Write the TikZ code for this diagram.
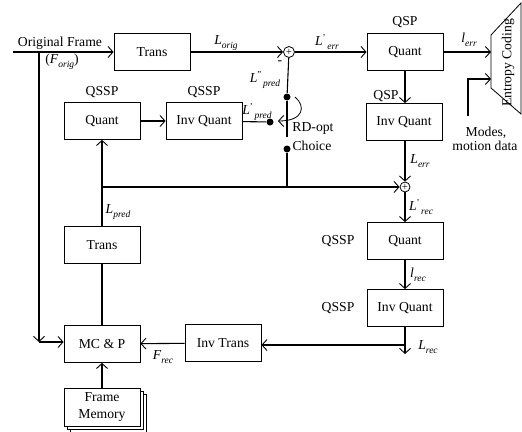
\documentclass[tikz,border=0pt]{standalone}
\usepackage{fontspec}
\setmainfont{Liberation Serif}
\usetikzlibrary{arrows.meta}
\newcommand{\Lx}[3]{\textit{#1}\raisebox{0.9ex}{\fontsize{9}{9}\selectfont #2}\raisebox{-0.6ex}{\fontsize{9.5}{9}\selectfont\itshape #3}}
\begin{document}
\begin{tikzpicture}[x=1pt,y=-1pt, font=\fontsize{13.7}{15}\selectfont,
  line width=1.1pt,
  box/.style={draw, line width=0.8pt, fill=white, minimum width=76pt, minimum height=37pt, inner sep=0pt, align=center},
  ar/.style={-{Straight Barb[length=5pt,width=11pt,line width=0.9pt]}},
  lab/.style={inner sep=0pt},
  dot/.style={circle, fill, inner sep=0pt, minimum size=7pt},
  sumc/.style={circle, draw, line width=0.8pt, fill=white, minimum size=11pt, inner sep=0pt, font=\fontsize{11}{11}\selectfont}]
\useasboundingbox (0,0) rectangle (522,431);

% boxes
\node[box] (trans1) at (152,52) {Trans};
\node[sumc] (s1) at (289,52) {+};
\node[box] (q1) at (405,52) {Quant};
\node[box] (iq1) at (404,122) {Inv Quant};
\node[sumc, minimum size=10pt] (s2) at (405,187) {+};
\node[box] (q2) at (405,241) {Quant};
\node[box] (iq2) at (405,308) {Inv Quant};
\node[box] (it) at (223,343) {Inv Trans};
\node[box] (mc) at (102,344) {MC \& P};
\node[box] (t2) at (102,245) {Trans};
\node[box] (q3) at (102,121) {Quant};
\node[box] (iq3) at (204,121) {Inv Quant};
\node[box, minimum height=38pt] (fm3) at (108,413) {};
\node[box, minimum height=38pt] (fm2) at (105,410) {};
\node[box, minimum height=38pt, font=\fontsize{13.7}{17}\selectfont] (fm) at (102,407) {Frame\\Memory};

% entropy coding
\draw[line width=0.8pt] (491,35) -- (521,3) -- (521,114) -- (491,88) -- cycle;
\node[lab, rotate=90] (ec) at (508,63) {Entropy Coding};
\coordinate (ecin1) at (491,52);
\coordinate (ecin2) at (491,79);

% switch dots
\node[dot] (dtop) at (287,97) {};
\node[dot] (dleft) at (270,122) {};
\node[dot] (dbot) at (287,149) {};

% coordinates
\coordinate (in) at (13,52);
\coordinate (split) at (39,52);
\coordinate (corner) at (39,342);
\coordinate (j1) at (102,187);
\coordinate (j2) at (287,187);
\coordinate (blade) at (287,137);
\coordinate (modes) at (468,116);
\coordinate (modesc) at (468,79);
\coordinate (j3) at (405,345);
\coordinate (lrecend) at (405,354);

% connectors
\draw[ar] (in) -- (trans1);
\draw[ar] (split) -- (corner);
\draw[ar] (corner) -- (corner -| mc.west);
\draw[ar] (trans1) -- (s1);
\draw[ar] (s1) -- (q1);
\draw[ar] (q1) -- (ecin1);
\draw[ar] (modes) -- (modesc) -- (ecin2);
\draw[ar] (q1) -- (iq1.north -| q1);
\draw[ar] (iq1.south -| s2) -- (s2);
\draw[ar] (s2) -- (q2);
\draw[ar] (q2) -- (iq2);
\draw[ar] (iq2) -- (lrecend);
\draw[ar] (j3) -- (it.east |- j3);
\draw[ar] (it) -- (mc);
\draw[ar] (fm) -- (mc);
\draw (mc) -- (t2);
\draw[ar] (t2) -- (q3);
\draw[ar] (j1) -- (s2);
\draw[ar] (q3) -- (iq3);
\draw (iq3) -- (dleft);
\draw (s1) -- (dtop);
\draw (dtop) -- (blade);
\draw (dbot) -- (j2);
\draw[ar, line width=0.8pt] (295,97) .. controls (306,106) and (304,121) .. (278,121);

% labels
\node[lab] (l1) at (60,43) {Original Frame};
\node[lab] (l2) at (62,62) {(\textit{F}\raisebox{-0.6ex}{\fontsize{9.5}{9}\selectfont\itshape orig})};
\node[lab] (l3) at (226,43) {\Lx{L}{}{orig}};
\node[lab] (l4) at (327,42) {\Lx{L}{'}{\,err}};
\node[lab] (l5) at (280,63) {-};
\node[lab] (l6) at (265,80) {\Lx{L}{''}{\,pred}};
\node[lab] (l7) at (257,112) {\Lx{L}{'}{\,pred}};
\node[lab] (l8) at (313,128) {RD-opt};
\node[lab] (l9) at (312,146) {Choice};
\node[lab] (l10) at (405,22) {QSP};
\node[lab] (l11) at (469,40) {\Lx{l}{}{err}};
\node[lab] (l12) at (386,96) {QSP};
\node[lab] (l13) at (420,161) {\Lx{L}{}{err}};
\node[lab] (l14) at (421,207) {\Lx{L}{'}{\,rec}};
\node[lab] (l15) at (338,241) {QSSP};
\node[lab] (l16) at (418,275) {\Lx{l}{}{rec}};
\node[lab] (l17) at (338,308) {QSSP};
\node[lab] (l18) at (428,347) {\Lx{L}{}{rec}};
\node[lab] (l19) at (163,357) {\Lx{F}{}{rec}};
\node[lab] (l20) at (118,212) {\Lx{L}{}{pred}};
\node[lab] (l21) at (102,92) {QSSP};
\node[lab] (l22) at (204,92) {QSSP};
\node[lab] (l23) at (486,133) {Modes,};
\node[lab] (l24) at (485,146) {motion data};
\end{tikzpicture}
\end{document}
